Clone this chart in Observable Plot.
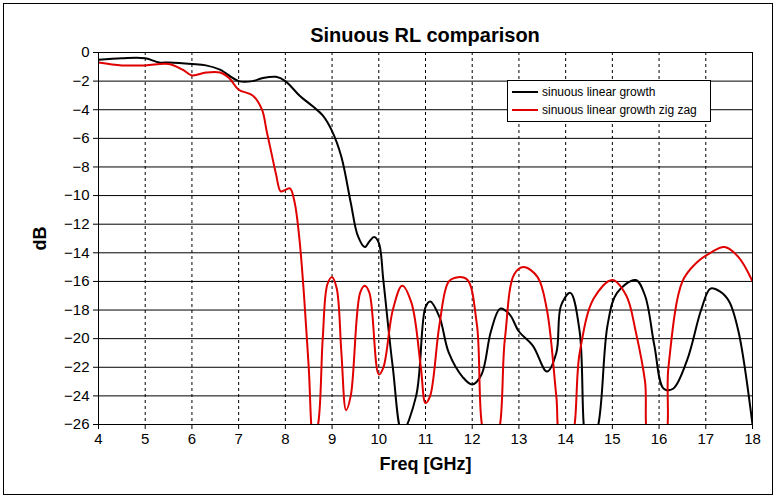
<!DOCTYPE html>
<html><head><meta charset="utf-8">
<script src="https://cdn.jsdelivr.net/npm/d3@7"></script>
<script src="https://cdn.jsdelivr.net/npm/@observablehq/plot@0.6"></script>
<style>
body{margin:0;background:#fff;font-family:Arial,"Liberation Sans",sans-serif}
#wrap{position:relative;width:780px;height:501px}
#frame{position:absolute;left:3px;top:3px;width:768px;height:490px;border:1px solid #000;pointer-events:none}
#title{position:absolute;left:98px;width:654px;top:24px;text-align:center;font-weight:bold;font-size:20px}
#legend{position:absolute;left:507px;top:80px;width:202px;height:40px;border:1px solid #000;background:#fff;font-size:12px}
.li{display:flex;align-items:center;height:18px;padding-left:4px}
.sw{width:26px;height:0;border-top:2px solid;margin-right:4px}
</style></head><body>
<div id="wrap"><div id="chart"></div><div id="frame"></div>
<div id="title">Sinuous RL comparison</div>
<div id="legend"><div class="li" style="margin-top:2px"><span class="sw" style="border-color:#000"></span>sinuous linear growth</div>
<div class="li"><span class="sw" style="border-color:#e00000"></span>sinuous linear growth zig zag</div></div></div>
<script>
const blackX=[4,4.5,5,5.3,5.5,6,6.3,6.6,7,7.3,7.5,7.8,8,8.3,8.6,8.8,9,9.2,9.4,9.55,9.7,9.8,9.9,10,10.1,10.3,10.5,10.8,11,11.1,11.3,11.5,11.8,12,12.2,12.4,12.6,12.8,13,13.3,13.6,13.8,13.9,14.1,14.3,14.4,14.5,14.7,14.9,15.1,15.5,15.7,15.9,16.1,16.3,16.6,16.9,17.1,17.3,17.5,17.7,18];
const blackY=[-0.5,-0.4,-0.4,-0.7,-0.7,-0.8,-0.9,-1.2,-2,-2,-1.8,-1.7,-2,-3,-3.8,-4.4,-5.5,-7.3,-10.5,-12.8,-13.6,-13.2,-12.9,-13.3,-16,-22,-26.5,-24,-17.8,-17.4,-18.5,-21,-22.7,-23.2,-22.5,-19.5,-17.9,-18.3,-19.5,-20.5,-22.3,-21,-17.7,-16.8,-19.5,-26.5,-28,-26,-19,-16.8,-15.9,-17,-20.5,-23.5,-23.5,-21.5,-18,-16.5,-16.7,-17.4,-19.5,-26];
const redX=[4,4.5,5,5.5,5.8,6,6.3,6.6,6.8,7,7.3,7.5,7.6,7.7,7.8,7.9,8,8.1,8.2,8.3,8.4,8.5,8.6,8.7,8.8,8.9,9,9.1,9.2,9.3,9.4,9.6,9.7,9.8,10,10.1,10.3,10.5,10.7,10.9,11,11.1,11.3,11.5,11.7,11.9,12.1,12.3,12.5,12.7,12.9,13.1,13.4,13.6,13.8,13.9,14.1,14.3,14.6,15,15.3,15.5,15.7,15.8,16.1,16.2,16.5,16.8,17.1,17.4,17.7,18];
const redY=[-0.7,-0.9,-0.9,-0.8,-1.2,-1.6,-1.4,-1.4,-1.8,-2.6,-3,-4,-5.5,-7,-8.5,-9.7,-9.6,-9.5,-10.5,-13,-17,-22,-27,-26,-20,-16.2,-15.7,-16.5,-21,-25,-24,-16.8,-16.3,-16.8,-22.5,-22,-18,-16.3,-17.5,-22,-24.5,-24,-19,-16,-15.7,-15.9,-19,-27,-27,-20,-15.5,-15,-15.7,-18,-24,-27,-27,-21,-17.2,-15.9,-17,-19.5,-23,-27,-27,-22,-16,-14.7,-14,-13.6,-14.3,-16];
const black=blackX.map((x,i)=>({x,y:blackY[i]}));
const red=redX.map((x,i)=>({x,y:redY[i]}));
const xTicks=d3.range(4,19,1), yTicks=d3.range(-26,1,2);
const chart=Plot.plot({
  width:780,height:501,marginLeft:98,marginRight:28,marginTop:52,marginBottom:77,
  style:{fontFamily:"Arial, Liberation Sans, sans-serif",fontSize:"15px",color:"#000"},
  x:{domain:[4,18],ticks:xTicks,tickSize:5,label:"Freq [GHz]",labelAnchor:"center",labelOffset:45,labelArrow:"none"},
  y:{domain:[-26,0],ticks:yTicks,tickSize:5,label:"dB",labelAnchor:"center",labelOffset:65,labelArrow:"none"},
  marks:[
    Plot.ruleY(yTicks,{stroke:"#000",strokeWidth:1}),
    Plot.ruleX(xTicks,{stroke:"#000",strokeDasharray:"3,3",strokeWidth:1}),
    Plot.line(black,{x:"x",y:"y",stroke:"#000",strokeWidth:2,curve:"catmull-rom",clip:true}),
    Plot.line(red,{x:"x",y:"y",stroke:"#e00000",strokeWidth:2,curve:"catmull-rom",clip:true}),
    Plot.frame({stroke:"#000"})
  ]
});
chart.querySelectorAll('[aria-label="x-axis label"], [aria-label="y-axis label"]').forEach(g=>{
  g.style.fontWeight="bold";g.style.fontSize="18px";
  g.querySelectorAll("text").forEach(t=>{t.textContent=t.textContent.replace(/\s*[→←↑↓]\s*/g,"").trim();});
});
document.getElementById("chart").appendChild(chart);
</script></body></html>
